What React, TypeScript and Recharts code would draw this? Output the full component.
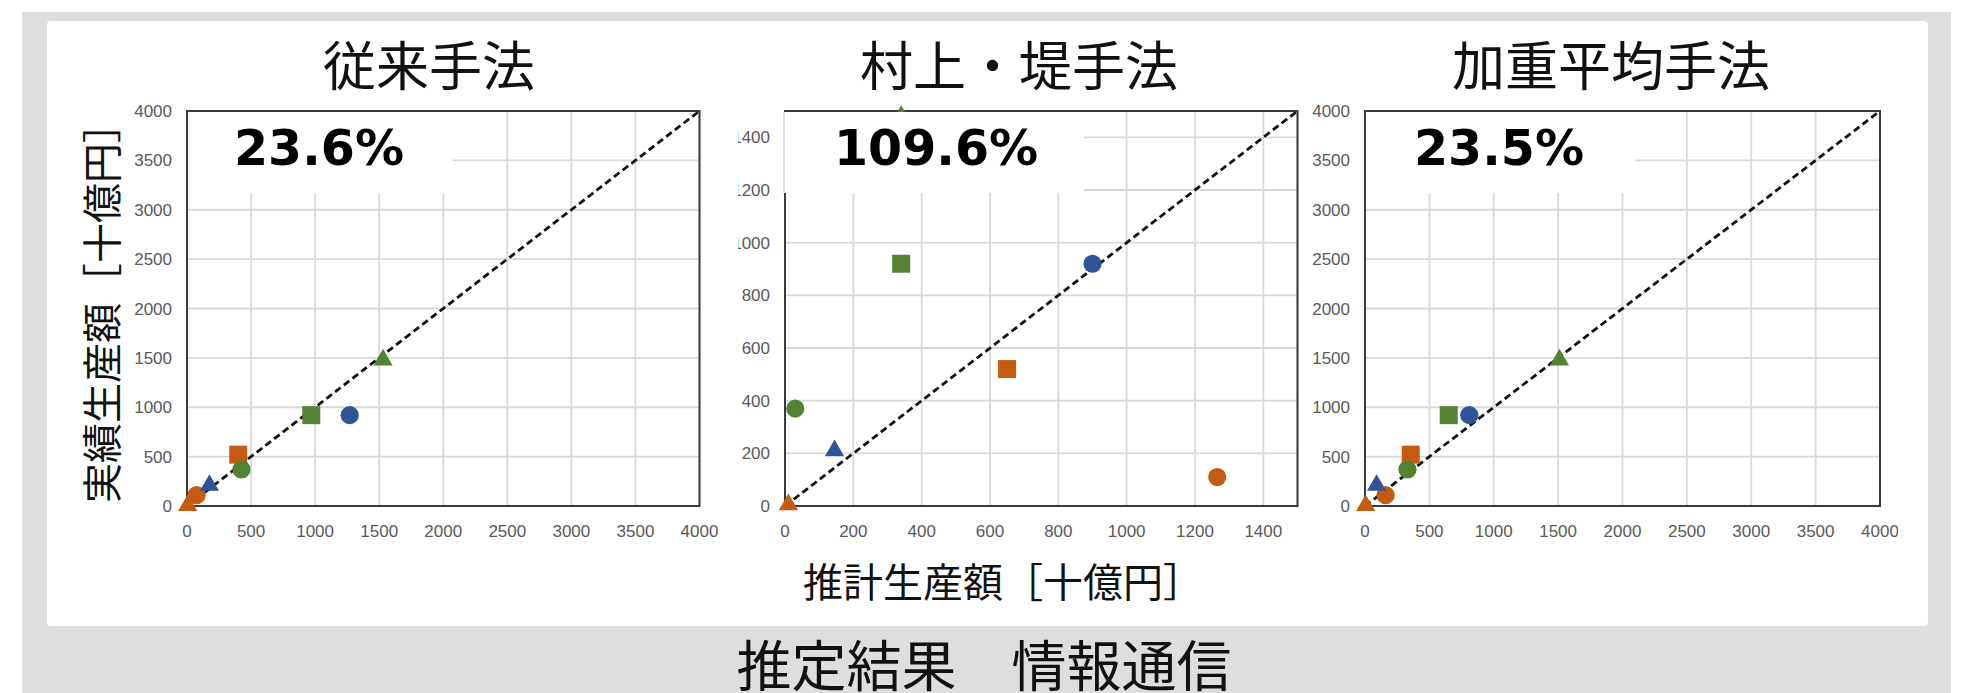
import React from 'react';
import {
  ScatterChart,
  Scatter,
  XAxis,
  YAxis,
  CartesianGrid,
  ReferenceLine,
  ReferenceArea,
  Symbols,
} from 'recharts';

// Marker palette
const ORANGE = '#C55A11';
const BLUE = '#2F5597';
const GREEN = '#548235';

// One entry per plotted item: marker shape and colour
const markerShapes = ['triangle', 'circle', 'square', 'triangle', 'circle', 'circle', 'square', 'triangle'];
const markerColors = [ORANGE, ORANGE, ORANGE, BLUE, BLUE, GREEN, GREEN, GREEN];

// Actual output (y) [十億円]
const actualOutput = [5, 110, 520, 210, 920, 370, 920, 1480];
// Estimated output (x) per method [十億円]
const conventionalEstimate = [5, 75, 400, 175, 1270, 425, 970, 1530];
const murakamiTsutsumiEstimate = [10, 1265, 650, 145, 900, 30, 340, 340];
const weightedAverageEstimate = [5, 160, 355, 90, 810, 330, 650, 1510];

// Panel titles and error rates
const panelTitles = ['従来手法', '村上・堤手法', '加重平均手法'];
const errorRates = ['23.6%', '109.6%', '23.5%'];

// Axis ticks
const wideTicks = [0, 500, 1000, 1500, 2000, 2500, 3000, 3500, 4000];
const narrowTicks = [0, 200, 400, 600, 800, 1000, 1200, 1400];

const TICK_FONT = "'Liberation Sans', Arial, sans-serif";
const CJK_FONT = "'Noto Sans CJK JP', 'Noto Sans CJK SC', sans-serif";

const symbolArea: Record<string, number> = { circle: 260, square: 324, triangle: 160 };

const makeShape = (type: string, color: string) => (props: any) => (
  <Symbols cx={props.cx} cy={props.cy} type={type as any} size={symbolArea[type]} fill={color} />
);

interface PanelProps {
  estimates: number[];
  max: number;
  ticks: number[];
  rightMargin: number;
}

function Panel({ estimates, max, ticks, rightMargin }: PanelProps) {
  return (
    <ScatterChart width={610} height={460} margin={{ top: 11, right: rightMargin, bottom: 0, left: 0 }}>
      <CartesianGrid stroke="#D9D9D9" strokeWidth={1.8} />
      <XAxis
        type="number"
        dataKey="x"
        domain={[0, max]}
        ticks={ticks}
        interval={0}
        height={54}
        axisLine={false}
        tickLine={false}
        tickSize={0}
        tickMargin={19}
        tick={{ fill: '#595959', fontSize: 17, fontFamily: TICK_FONT }}
      />
      <YAxis
        type="number"
        dataKey="y"
        domain={[0, max]}
        ticks={ticks}
        interval={0}
        width={77}
        axisLine={false}
        tickLine={false}
        tickSize={0}
        tickMargin={15}
        tick={{ fill: '#595959', fontSize: 17, fontFamily: TICK_FONT }}
      />
      <ReferenceArea x1={0} x2={max} y1={0} y2={max} fill="none" stroke="#3A3A3A" strokeWidth={2} />
      <ReferenceLine
        segment={[{ x: 0, y: 0 }, { x: max, y: max }]}
        stroke="#111"
        strokeWidth={2.8}
        strokeDasharray="7 4"
      />
      {estimates.map((est, i) => (
        <Scatter
          key={i}
          data={[{ x: est, y: actualOutput[i] }]}
          shape={makeShape(markerShapes[i], markerColors[i])}
          isAnimationActive={false}
        />
      ))}
    </ScatterChart>
  );
}

export default function App() {
  return (
    <div
      style={{
        position: 'absolute',
        left: 0,
        top: 0,
        width: 1982,
        height: 693,
        background: '#fff',
        overflow: 'hidden',
      }}
    >
      {/* frame */}
      <svg width={1982} height={693} style={{ position: 'absolute', left: 0, top: 0 }}>
        <rect x={22} y={12} width={1929} height={681} fill="#DEDEDE" />
        <rect x={47} y={21} width={1881} height={605} rx={4} fill="#fff" />
      </svg>

      {/* 従来手法 */}
      <div style={{ position: 'absolute', left: 110, top: 100 }}>
        <Panel estimates={conventionalEstimate} max={4000} ticks={wideTicks} rightMargin={20.5} />
      </div>

      {/* 村上・堤手法 (left edge trimmed) */}
      <div style={{ position: 'absolute', left: 738, top: 100, width: 600, height: 470, overflow: 'hidden' }}>
        <div style={{ position: 'absolute', left: -30.5, top: 0 }}>
          <Panel estimates={murakamiTsutsumiEstimate} max={1500} ticks={narrowTicks} rightMargin={20.5} />
        </div>
      </div>

      {/* 加重平均手法 */}
      <div style={{ position: 'absolute', left: 1288, top: 100 }}>
        <Panel estimates={weightedAverageEstimate} max={4000} ticks={wideTicks} rightMargin={18} />
      </div>

      {/* labels */}
      <svg width={1982} height={693} style={{ position: 'absolute', left: 0, top: 0, pointerEvents: 'none' }}>
        {/* error-rate boxes */}
        <rect x={188} y={112} width={265} height={81} fill="#fff" />
        <rect x={783} y={112} width={301} height={81} fill="#fff" />
        <line x1={784} y1={112} x2={784} y2={193} stroke="#BDBDBD" strokeWidth={1} />
        <rect x={1366} y={112} width={269} height={81} fill="#fff" />
        <g fontFamily="'DejaVu Sans', Verdana, sans-serif" fontWeight={700} fontSize={49} fill="#000">
          <text x={234} y={165}>{errorRates[0]}</text>
          <text x={834} y={165}>{errorRates[1]}</text>
          <text x={1414} y={165}>{errorRates[2]}</text>
        </g>

        <g fontFamily={CJK_FONT} fill="#111" textAnchor="middle">
          <text x={429} y={86} fontSize={53}>{panelTitles[0]}</text>
          <text x={1019} y={86} fontSize={53}>{panelTitles[1]}</text>
          <text x={1611} y={86} fontSize={53}>{panelTitles[2]}</text>
          <text x={1003} y={597} fontSize={40}>推計生産額［十億円］</text>
          <text transform="translate(117,303) rotate(-90)" fontSize={40}>実績生産額［十億円］</text>
          <text x={984} y={686} fontSize={55}>推定結果　情報通信</text>
        </g>
      </svg>
    </div>
  );
}
